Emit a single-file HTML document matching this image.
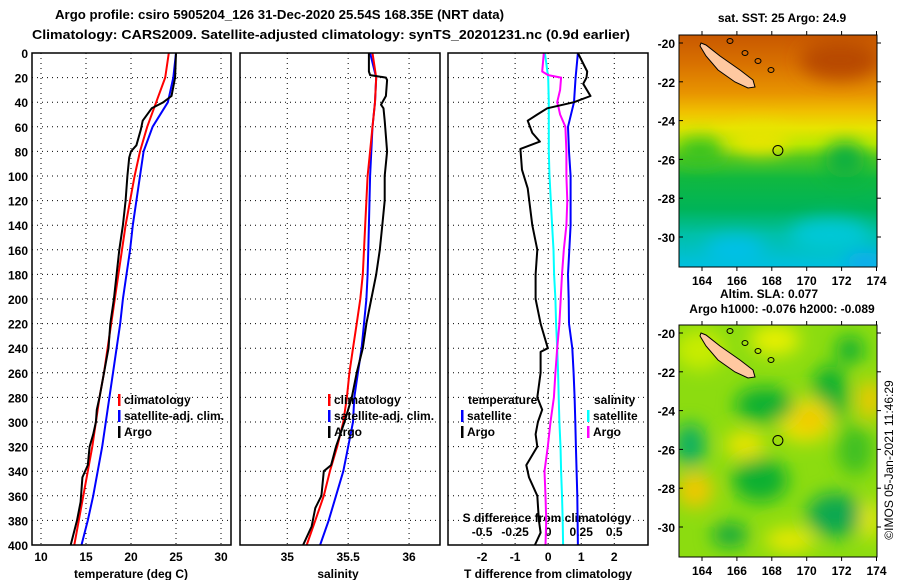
<!DOCTYPE html>
<html><head><meta charset="utf-8">
<style>
body{margin:0;background:#fff;}
svg{display:block;font-family:"Liberation Sans",sans-serif;font-weight:bold;}
</style></head>
<body>
<svg id="c" width="900" height="580" viewBox="0 0 900 580" xmlns="http://www.w3.org/2000/svg">
<defs>
<linearGradient id="sstg" x1="0" y1="0" x2="0" y2="1">
<stop offset="0" stop-color="#c85800"/><stop offset="0.12" stop-color="#d87000"/>
<stop offset="0.25" stop-color="#e89400"/><stop offset="0.33" stop-color="#f0c000"/>
<stop offset="0.40" stop-color="#e8e400"/><stop offset="0.47" stop-color="#b8e800"/>
<stop offset="0.53" stop-color="#50c820"/><stop offset="0.62" stop-color="#10b840"/>
<stop offset="0.75" stop-color="#00b458"/><stop offset="0.86" stop-color="#00c0a8"/>
<stop offset="1" stop-color="#00c0e0"/>
</linearGradient>
<filter id="bl" x="-50%" y="-50%" width="200%" height="200%"><feGaussianBlur stdDeviation="9"/></filter>
<clipPath id="cp1"><rect x="679" y="35" width="198" height="232"/></clipPath>
<clipPath id="cp2"><rect x="679" y="325" width="198" height="232"/></clipPath>
</defs>
<g id="root"></g>
<text x="55" y="19" textLength="449" lengthAdjust="spacingAndGlyphs" font-size="13">Argo profile: csiro 5905204_126 31-Dec-2020 25.54S 168.35E (NRT data)</text>
<text x="32" y="39" textLength="598" lengthAdjust="spacingAndGlyphs" font-size="13">Climatology: CARS2009. Satellite-adjusted climatology: synTS_20201231.nc (0.9d earlier)</text>

<g clip-path="url(#cp1)">
<rect x="679" y="35" width="198" height="232" fill="url(#sstg)"/>
<g filter="url(#bl)">
<ellipse cx="840" cy="60" rx="40" ry="20" fill="#b84800"/>
<ellipse cx="760" cy="140" rx="30" ry="14" fill="#e8e400"/>
<ellipse cx="700" cy="150" rx="25" ry="12" fill="#30c020"/>
<ellipse cx="845" cy="160" rx="20" ry="18" fill="#10b040"/>
<ellipse cx="830" cy="235" rx="40" ry="16" fill="#00c8d8"/>
<ellipse cx="735" cy="250" rx="30" ry="14" fill="#00c0e8"/>
<ellipse cx="865" cy="262" rx="20" ry="10" fill="#10a8f0"/>
</g>
</g>
<rect x="679" y="35" width="198" height="232" fill="none" stroke="#000"/>
<text x="782" y="22" text-anchor="middle" font-size="12">sat. SST: 25 Argo: 24.9</text>

<g clip-path="url(#cp2)">
<rect x="679" y="325" width="198" height="232" fill="#8cdc10"/>
<g filter="url(#bl)">
<ellipse cx="700" cy="350" rx="25" ry="20" fill="#c8ec00"/>
<ellipse cx="775" cy="340" rx="25" ry="15" fill="#e8f000"/>
<ellipse cx="830" cy="395" rx="18" ry="30" fill="#10b030"/>
<ellipse cx="850" cy="350" rx="14" ry="14" fill="#10b030"/>
<ellipse cx="870" cy="400" rx="12" ry="20" fill="#f0c800"/>
<ellipse cx="805" cy="420" rx="28" ry="22" fill="#f0e000"/>
<ellipse cx="810" cy="420" rx="12" ry="10" fill="#f0c000"/>
<ellipse cx="765" cy="405" rx="30" ry="18" fill="#10b030"/>
<ellipse cx="690" cy="445" rx="16" ry="22" fill="#10b060"/>
<ellipse cx="745" cy="445" rx="20" ry="14" fill="#e8e400"/>
<ellipse cx="760" cy="480" rx="28" ry="22" fill="#10b030"/>
<ellipse cx="695" cy="490" rx="18" ry="18" fill="#f0c800"/>
<ellipse cx="855" cy="450" rx="18" ry="25" fill="#40c020"/>
<ellipse cx="835" cy="515" rx="28" ry="22" fill="#10a850"/>
<ellipse cx="730" cy="535" rx="18" ry="12" fill="#10a840"/>
<ellipse cx="790" cy="540" rx="25" ry="12" fill="#e8e800"/>
<ellipse cx="870" cy="520" rx="10" ry="20" fill="#e8e800"/>
</g>
</g>
<rect x="679" y="325" width="198" height="232" fill="none" stroke="#000"/>
<text x="720" y="298" font-size="12">Altim. SLA: 0.077</text>
<text x="782" y="313" text-anchor="middle" font-size="12">Argo h1000: -0.076 h2000: -0.089</text>
<text transform="translate(893,460) rotate(-90)" text-anchor="middle" font-size="12" font-weight="normal">©IMOS 05-Jan-2021 11:46:29</text>
<g id="overlay"></g>
</svg>
<script>
// ---- data ----
const depths = [0,20,40,60,80,100,120,140,160,180,200,220,240,260,280,300,320,340,360,380,400];
const tempClim = [24.2,23.8,22.8,21.8,21.0,20.4,19.9,19.4,19.0,18.6,18.2,17.8,17.4,17.0,16.5,16.1,15.7,15.2,14.7,14.2,13.7];
const tempSat = [25.0,24.7,24.1,22.4,21.4,21.0,20.6,20.2,19.9,19.5,19.1,18.8,18.4,18.0,17.6,17.2,16.8,16.3,15.8,15.2,14.5];
const argoTDepth = [0,20,35,40,45,55,62,75,80,85,100,120,140,160,180,200,220,240,260,280,290,300,310,320,335,345,365,380,400];
const argoTemp = [25.0,24.9,24.5,23.6,22.3,21.3,21.1,20.6,20.0,19.8,19.6,19.4,19.1,18.7,18.4,18.1,17.7,17.5,17.0,16.5,16.2,16.1,15.8,15.4,15.2,14.6,14.4,14.0,13.3];
const salClim = [35.70,35.73,35.72,35.70,35.68,35.66,35.65,35.64,35.63,35.62,35.60,35.57,35.54,35.51,35.49,35.46,35.41,35.35,35.30,35.23,35.16];
const salSat = [35.68,35.73,35.72,35.70,35.69,35.68,35.675,35.67,35.665,35.66,35.65,35.63,35.61,35.58,35.55,35.54,35.50,35.46,35.40,35.34,35.27];
const argoSDepth = [0,15,18,20,22,35,42,45,55,80,100,120,140,160,180,200,220,240,260,280,300,320,335,340,360,370,385,400];
const argoSal = [35.67,35.67,35.68,35.81,35.82,35.81,35.77,35.79,35.80,35.82,35.80,35.80,35.78,35.76,35.73,35.69,35.65,35.62,35.57,35.53,35.47,35.40,35.36,35.30,35.28,35.23,35.20,35.13];
const tdSat = [0.90,0.83,0.78,0.60,0.63,0.68,0.68,0.68,0.64,0.60,0.62,0.63,0.73,0.77,0.80,0.82,0.84,0.86,0.88,0.89,0.90];
const tdArgoDepth = [0,15,20,25,35,40,45,50,55,65,72,78,95,110,140,160,180,200,220,240,243,260,280,290,300,310,320,335,345,360,380,390,400];
const tdArgo = [0.90,1.18,1.16,1.06,1.28,0.78,-0.03,-0.33,-0.62,-0.48,-0.25,-0.84,-0.79,-0.62,-0.48,-0.33,-0.38,-0.38,-0.23,-0.01,-0.23,-0.23,-0.33,-0.18,-0.31,-0.38,-0.33,-0.66,-0.58,-0.33,-0.28,-0.23,-0.40];
const sdSat = [-0.025,0.0,0.005,0.005,0.005,0.01,0.02,0.03,0.04,0.045,0.055,0.06,0.068,0.075,0.08,0.085,0.093,0.098,0.105,0.11,0.113];
const sdArgoDepth = [0,15,18,20,30,40,45,50,60,80,100,120,140,160,180,200,220,240,260,280,300,320,340,360,380,400];
const sdArgo = [-0.033,-0.045,0.0,0.098,0.09,0.068,0.08,0.09,0.13,0.138,0.138,0.145,0.138,0.118,0.105,0.095,0.085,0.068,0.055,0.043,0.018,-0.003,-0.028,-0.02,-0.015,-0.02];
const depthTicks = [0,20,40,60,80,100,120,140,160,180,200,220,240,260,280,300,320,340,360,380,400];
const tTicks = [10,15,20,25,30];
const sTicks = [35,35.5,36];
const tdTicks = [-2,-1,0,1,2];
const sdTicks = [-0.5,-0.25,0,0.25,0.5];
const latTicks = [-20,-22,-24,-26,-28,-30];
const lonTicks = [164,166,168,170,172,174];

const NS="http://www.w3.org/2000/svg";
const root=document.getElementById('root');
const overlay=document.getElementById('overlay');
function mk(tag,attrs,parent){const e=document.createElementNS(NS,tag);for(const k in attrs)e.setAttribute(k,attrs[k]);(parent||root).appendChild(e);return e;}
const Y0=53,Y1=545;
const yD=d=>Y0+(d/400)*(Y1-Y0);
const panels=[
 {x0:32,x1:231,min:9,max:31.11,name:'temperature-panel'},
 {x0:240,x1:440,min:34.612,max:36.254,name:'salinity-panel'},
 {x0:448,x1:648,min:-3.03,max:3.02,name:'difference-panel'}];
function xs(p,v){return p.x0+(v-p.min)/(p.max-p.min)*(p.x1-p.x0);}
function grid(p,ticks){
  depthTicks.forEach(d=>{if(d>0&&d<400){const l=mk('line',{x1:p.x0,x2:p.x1,y1:yD(d),y2:yD(d),stroke:'#000','stroke-width':1,'stroke-dasharray':'1,4'});
  
  }});
  ticks.forEach(t=>{const x=xs(p,t);const l=mk('line',{x1:x,x2:x,y1:Y0,y2:Y1,stroke:'#000','stroke-width':1,'stroke-dasharray':'1,4'});
  
  });
}
function frame(p){const r=mk('rect',{x:p.x0,y:Y0,width:p.x1-p.x0,height:Y1-Y0,fill:'none',stroke:'#000','stroke-width':1.5});

}
function line(p,xv,dv,col,name,sc){sc=sc||1;const pts=xv.map((v,i)=>xs(p,v*sc).toFixed(1)+','+yD(dv[i]).toFixed(1)).join(' ');
const e=mk('polyline',{points:pts,fill:'none',stroke:col,'stroke-width':2,'stroke-linejoin':'round'});

}
function txt(x,y,s,anchor,size,name,par){const t=mk('text',{x:x,y:y,'text-anchor':anchor||'start','font-size':size||12},par);t.textContent=s;

return t;}
function fmt(v){return String(v);}
grid(panels[0],tTicks);grid(panels[1],[35,35.5,36]);grid(panels[2],tdTicks);
depthTicks.forEach(d=>{txt(28,yD(d)+5,String(d),'end',12,'depth-tick-label');});
tTicks.forEach(t=>txt(xs(panels[0],t),561,fmt(t),'middle',12,'temperature-tick-label'));
sTicks.forEach(t=>txt(xs(panels[1],t),561,fmt(t),'middle',12,'salinity-tick-label'));
tdTicks.forEach(t=>txt(xs(panels[2],t),561,fmt(t),'middle',12,'tdiff-tick-label'));
sdTicks.forEach(t=>txt(xs(panels[2],t*4),536,fmt(t),'middle',12,'sdiff-tick-label'));
txt(131,578,'temperature (deg C)','middle',12,'temperature-axis-title');
txt(338,578,'salinity','middle',12,'salinity-axis-title');
txt(548,578,'T difference from climatology','middle',12,'tdiff-axis-title');
txt(547,522,'S difference from climatology','middle',12,'sdiff-axis-title');
line(panels[0],tempSat,depths,'#0000ff','temp-satellite-line');
line(panels[0],tempClim,depths,'#ff0000','temp-climatology-line');
line(panels[0],argoTemp,argoTDepth,'#000','temp-argo-line');
line(panels[1],salSat,depths,'#0000ff','sal-satellite-line');
line(panels[1],salClim,depths,'#ff0000','sal-climatology-line');
line(panels[1],argoSal,argoSDepth,'#000','sal-argo-line');
line(panels[2],sdSat,depths,'#00ffff','sdiff-satellite-line',4);
line(panels[2],tdSat,depths,'#0000ff','tdiff-satellite-line');
line(panels[2],sdArgo,sdArgoDepth,'#ff00ff','sdiff-argo-line',4);
line(panels[2],tdArgo,tdArgoDepth,'#000','tdiff-argo-line');
panels.forEach(frame);
function leg(x,y,col,label){const b=mk('rect',{x:x,y:y-10,width:2.5,height:12,fill:col});


txt(x+6,y,label,'start',12,'legend-entry');}
[[118,'#ff0000','climatology',404],[118,'#0000ff','satellite-adj. clim.',420],[118,'#000','Argo',436]].forEach(a=>leg(a[0],a[3],a[1],a[2]));
[[328,'#ff0000','climatology',404],[328,'#0000ff','satellite-adj. clim.',420],[328,'#000','Argo',436]].forEach(a=>leg(a[0],a[3],a[1],a[2]));
txt(468,404,'temperature','start',12,'legend-title-temperature');
txt(594,404,'salinity','start',12,'legend-title-salinity');
leg(461,420,'#0000ff','satellite');leg(461,436,'#000','Argo');
leg(587,420,'#00ffff','satellite');leg(587,436,'#ff00ff','Argo');
const mx=lon=>702+(lon-164)*17.45;
function mapAxes(top,lat20){
  const ly=lat=>lat20+(-20-lat)*19.4;
  latTicks.forEach(l=>{const y=ly(l);
    txt(675,y+5,String(l),'end',12,'latitude-tick-label',overlay);
    const a=mk('line',{x1:679,x2:683,y1:y,y2:y,stroke:'#000'},overlay);
    const b=mk('line',{x1:877,x2:881,y1:y,y2:y,stroke:'#000'},overlay);});
  lonTicks.forEach(l=>{const x=mx(l);
    txt(x,top+232+18,String(l),'middle',12,'longitude-tick-label',overlay);
    const a=mk('line',{x1:x,x2:x,y1:top+232,y2:top+236,stroke:'#000'},overlay);
    const b=mk('line',{x1:x,x2:x,y1:top-4,y2:top,stroke:'#000'},overlay);});
  const dy=lat20-43;
  const isl=mk('polygon',{points:[[701,43],[706,45],[720,56],[740,70],[753,80],[755,87],[748,88],[735,82],[718,70],[706,56],[700,46]].map(p=>p[0]+','+(p[1]+dy)).join(' '),fill:'#ffc8a0',stroke:'#000','stroke-width':1},overlay);
  
  
  [[730,41],[745,53],[758,61],[771,70]].forEach(p=>{const c=mk('ellipse',{cx:p[0],cy:p[1]+dy,rx:3,ry:2.5,fill:'none',stroke:'#000'},overlay);});
  const c=mk('circle',{cx:mx(168.35),cy:ly(-25.54),r:5,fill:'none',stroke:'#000','stroke-width':1},overlay);
  
  
}
mapAxes(35,43);
mapAxes(325,333);
</script>
</body></html>
